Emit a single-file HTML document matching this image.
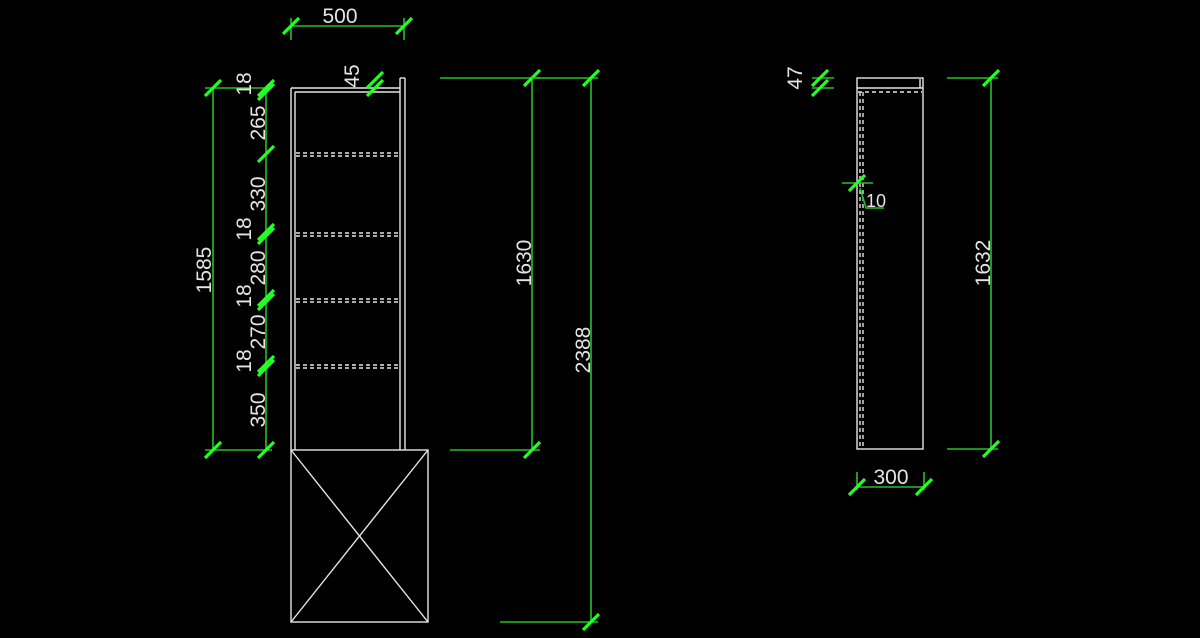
<!DOCTYPE html>
<html><head><meta charset="utf-8"><style>
html,body{margin:0;padding:0;background:#000;width:1200px;height:638px;overflow:hidden}
svg{display:block}
text{font-family:"Liberation Sans",sans-serif;fill:#e4e4e4;font-size:21px}
.g{stroke:#22c322;stroke-width:1.6;fill:none}
.t{stroke:#22ff22;stroke-width:3.2}
.w{stroke:#e6e6e6;stroke-width:1.4;fill:none}
.d{stroke:#e6e6e6;stroke-width:1.4;stroke-dasharray:4 3;fill:none}
</style></head><body>
<svg width="1200" height="638" viewBox="0 0 1200 638">
<defs><path id="tk" d="M-8,8 L8,-8"/></defs>

<!-- Left cabinet -->
<line class="w" x1="291" y1="88" x2="291" y2="450"/>
<line class="w" x1="295" y1="92" x2="295" y2="450"/>
<line class="w" x1="291" y1="88" x2="400" y2="88"/>
<line class="w" x1="295" y1="92" x2="400" y2="92"/>
<line class="w" x1="400" y1="78" x2="400" y2="450"/>
<line class="w" x1="405" y1="78" x2="405" y2="450"/>
<line class="w" x1="400" y1="78" x2="405" y2="78"/>
<g>
<line class="d" x1="296" y1="153" x2="400" y2="153"/><line class="d" x1="296" y1="156" x2="400" y2="156"/>
<line class="d" x1="296" y1="233" x2="400" y2="233"/><line class="d" x1="296" y1="236" x2="400" y2="236"/>
<line class="d" x1="296" y1="299" x2="400" y2="299"/><line class="d" x1="296" y1="302" x2="400" y2="302"/>
<line class="d" x1="296" y1="365" x2="400" y2="365"/><line class="d" x1="296" y1="368" x2="400" y2="368"/>
</g>
<rect class="w" x="291" y="450" width="137" height="172"/>
<line class="w" x1="291" y1="450" x2="428" y2="622"/>
<line class="w" x1="428" y1="450" x2="291" y2="622"/>

<!-- 500 -->
<line class="g" x1="291" y1="26" x2="404" y2="26"/>
<line class="g" x1="291" y1="18" x2="291" y2="40"/>
<line class="g" x1="404" y1="18" x2="404" y2="40"/>
<use href="#tk" class="t" x="291" y="26"/><use href="#tk" class="t" x="404" y="26"/>
<text x="340" y="23" text-anchor="middle">500</text>

<!-- 45 -->
<use href="#tk" class="t" x="375" y="80"/><use href="#tk" class="t" x="375" y="88"/>
<text transform="translate(359,76) rotate(-90)" text-anchor="middle">45</text>

<!-- 1585 -->
<line class="g" x1="213" y1="88" x2="213" y2="450"/>
<line class="g" x1="205" y1="88" x2="266" y2="88"/>
<line class="g" x1="205" y1="450" x2="272" y2="450"/>
<use href="#tk" class="t" x="213" y="88"/><use href="#tk" class="t" x="213" y="450"/>
<text transform="translate(211,270) rotate(-90)" text-anchor="middle">1585</text>

<!-- chain -->
<line class="g" x1="266" y1="88" x2="266" y2="450"/>
<use href="#tk" class="t" x="266" y="88"/><use href="#tk" class="t" x="266" y="92"/>
<use href="#tk" class="t" x="266" y="154"/>
<use href="#tk" class="t" x="266" y="232"/><use href="#tk" class="t" x="266" y="236"/>
<use href="#tk" class="t" x="266" y="298"/><use href="#tk" class="t" x="266" y="302"/>
<use href="#tk" class="t" x="266" y="364"/><use href="#tk" class="t" x="266" y="368"/>
<use href="#tk" class="t" x="266" y="450"/>
<text transform="translate(251,84) rotate(-90)" text-anchor="middle">18</text>
<text transform="translate(265,123) rotate(-90)" text-anchor="middle">265</text>
<text transform="translate(265,194) rotate(-90)" text-anchor="middle">330</text>
<text transform="translate(251,229) rotate(-90)" text-anchor="middle">18</text>
<text transform="translate(265,268) rotate(-90)" text-anchor="middle">280</text>
<text transform="translate(251,296) rotate(-90)" text-anchor="middle">18</text>
<text transform="translate(265,332) rotate(-90)" text-anchor="middle">270</text>
<text transform="translate(251,361) rotate(-90)" text-anchor="middle">18</text>
<text transform="translate(265,410) rotate(-90)" text-anchor="middle">350</text>

<!-- 1630 -->
<line class="g" x1="532" y1="78" x2="532" y2="450"/>
<line class="g" x1="440" y1="78" x2="540" y2="78"/>
<line class="g" x1="450" y1="450" x2="540" y2="450"/>
<use href="#tk" class="t" x="532" y="78"/><use href="#tk" class="t" x="532" y="450"/>
<text transform="translate(531,263) rotate(-90)" text-anchor="middle">1630</text>

<!-- 2388 -->
<line class="g" x1="591" y1="78" x2="591" y2="622"/>
<line class="g" x1="532" y1="78" x2="598" y2="78"/>
<line class="g" x1="500" y1="622" x2="598" y2="622"/>
<use href="#tk" class="t" x="591" y="78"/><use href="#tk" class="t" x="591" y="622"/>
<text transform="translate(590,350) rotate(-90)" text-anchor="middle">2388</text>

<!-- Right view -->
<rect class="w" x="857" y="78" width="66" height="371"/>
<line class="w" x1="857" y1="88" x2="923" y2="88"/>
<line class="w" x1="920" y1="79" x2="920" y2="88"/>
<line class="d" x1="858" y1="92" x2="922" y2="92"/>
<line class="d" x1="860" y1="92" x2="860" y2="448"/>
<line class="d" x1="863" y1="92" x2="863" y2="448"/>

<!-- 47 -->
<line class="g" x1="812" y1="78" x2="834" y2="78"/>
<line class="g" x1="812" y1="88" x2="834" y2="88"/>
<use href="#tk" class="t" x="820" y="78"/><use href="#tk" class="t" x="820" y="88"/>
<text transform="translate(802,78) rotate(-90)" text-anchor="middle">47</text>

<!-- 10 -->
<line class="g" x1="842" y1="183" x2="873" y2="183"/>
<use href="#tk" class="t" x="857" y="183"/>
<polyline class="g" points="860,188 866,208 884,208"/>
<text x="866" y="207" style="font-size:18px">10</text>

<!-- 1632 -->
<line class="g" x1="991" y1="78" x2="991" y2="449"/>
<line class="g" x1="947" y1="78" x2="998" y2="78"/>
<line class="g" x1="947" y1="449" x2="998" y2="449"/>
<use href="#tk" class="t" x="991" y="78"/><use href="#tk" class="t" x="991" y="449"/>
<text transform="translate(990,263) rotate(-90)" text-anchor="middle">1632</text>

<!-- 300 -->
<line class="g" x1="857" y1="487" x2="924" y2="487"/>
<line class="g" x1="857" y1="472" x2="857" y2="490"/>
<line class="g" x1="924" y1="472" x2="924" y2="490"/>
<use href="#tk" class="t" x="857" y="487"/><use href="#tk" class="t" x="924" y="487"/>
<text x="891" y="484" text-anchor="middle">300</text>
</svg>
</body></html>
